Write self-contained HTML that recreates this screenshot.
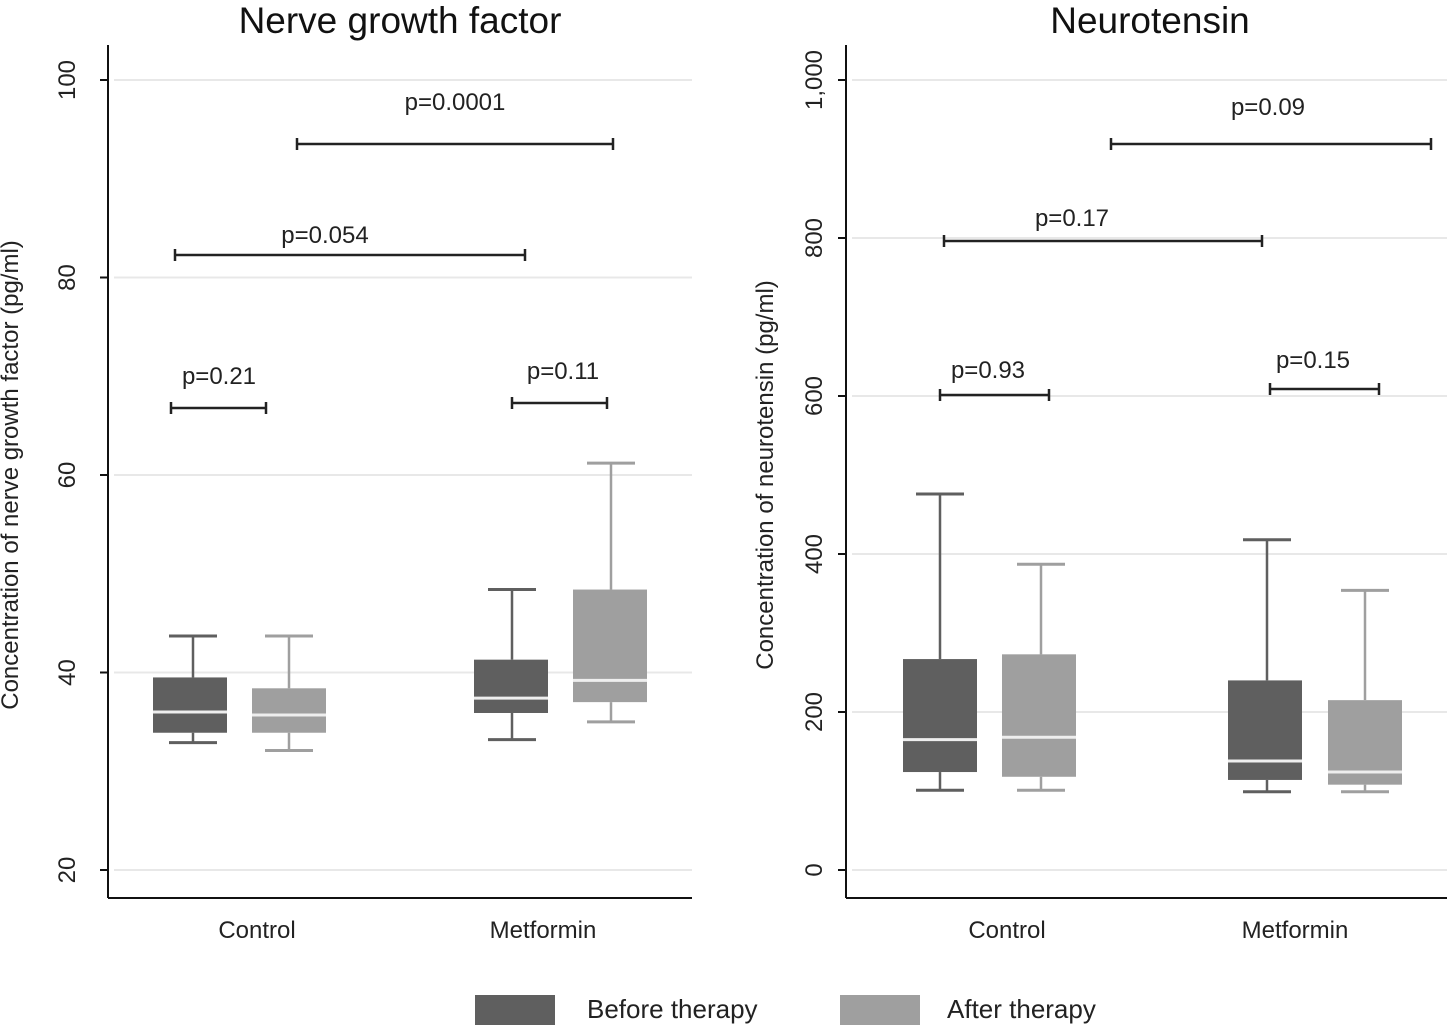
<!DOCTYPE html>
<html><head><meta charset="utf-8"><style>
body{margin:0;background:#fff}
svg{display:block;font-family:"Liberation Sans",Arial,sans-serif}
</style></head><body>
<svg id="chart" width="1450" height="1027" viewBox="0 0 1450 1027"></svg>
<script>
const categories=["Control","Metformin"];
const seriesNames=["Before therapy","After therapy"];
// [min, q1, median, q3, max] per category, per series
const ngfBefore=[[32.9,33.9,36.0,39.5,43.7],[33.2,35.9,37.4,41.3,48.4]];
const ngfAfter=[[32.1,33.9,35.7,38.4,43.7],[35.0,37.0,39.2,48.4,61.2]];
const ntBefore=[[101,124,165,267,476],[99,114,138,240,418]];
const ntAfter=[[101,118,168,273,387],[99,108,124,215,354]];
const ngfTicks=[20,40,60,80,100];
const ntTicks=[0,200,400,600,800,1000];
const ngfTickLabels=["20","40","60","80","100"];
const ntTickLabels=["0","200","400","600","800","1,000"];
const ngfPvals=["p=0.21","p=0.11","p=0.054","p=0.0001"];
const ntPvals=["p=0.93","p=0.15","p=0.17","p=0.09"];

const NS="http://www.w3.org/2000/svg";
const svg=document.getElementById('chart');
function mk(tag,attrs,parent,text){const e=document.createElementNS(NS,tag);for(const k in attrs)e.setAttribute(k,attrs[k]);if(text!==undefined)e.textContent=text;(parent||svg).appendChild(e);return e;}

const panels=[
 {title:"Nerve growth factor",ytitle:"Concentration of nerve growth factor (pg/ml)",x0:108,x1:692,ymin:20,ymax:100,py0:870,py1:80,
  ticks:ngfTicks,labels:ngfTickLabels,before:ngfBefore,after:ngfAfter,boxX:[[153,252],[474,573]],bw:74,wx:[[193,289],[512,611]],catX:[257,543],titleX:400,ytX:18,tickX:75,
  pv:ngfPvals,br:[[171,266,408],[512,607,403]],brl:[[175,525,255],[297,613,144]],pvx:[219,563,325,455],pvy:[384,379,243,110]},
 {title:"Neurotensin",ytitle:"Concentration of neurotensin (pg/ml)",x0:846,x1:1447,ymin:0,ymax:1000,py0:870,py1:80,
  ticks:ntTicks,labels:ntTickLabels,before:ntBefore,after:ntAfter,boxX:[[903,1002],[1228,1328]],bw:74,wx:[[940,1041],[1267,1365]],catX:[1007,1295],titleX:1150,ytX:773,tickX:822,
  pv:ntPvals,br:[[940,1049,395],[1270,1379,389]],brl:[[944,1262,241],[1111,1431,144]],pvx:[988,1313,1072,1268],pvy:[378,368,226,115]}
];
const colors=["#5f5f5f","#9f9f9f"];

panels.forEach((p,pi)=>{
  const g=mk('g',{},svg);
  
  
  const y=v=>p.py0+(v-p.ymin)*(p.py1-p.py0)/(p.ymax-p.ymin);
  const t=mk('text',{x:p.titleX,y:33,'text-anchor':'middle','font-size':37,fill:'#111'},g,p.title);
  
  p.ticks.forEach((tv,i)=>{
    const gl=mk('line',{x1:p.x0+6,x2:p.x1,y1:y(tv),y2:y(tv),stroke:'#e8e8e8','stroke-width':2},g);
    
    mk('line',{x1:p.x0-8,x2:p.x0,y1:y(tv),y2:y(tv),stroke:'#111','stroke-width':2},g);
    const tl=mk('text',{transform:`translate(${p.tickX},${y(tv)}) rotate(-90)`,'text-anchor':'middle','font-size':24,fill:'#222'},g,p.labels[i]);
    
  });
  mk('line',{x1:p.x0,x2:p.x0,y1:45,y2:898,stroke:'#111','stroke-width':2},g);
  mk('line',{x1:p.x0,x2:p.x1,y1:898,y2:898,stroke:'#111','stroke-width':2},g);
  const yt=mk('text',{transform:`translate(${p.ytX},${475}) rotate(-90)`,'text-anchor':'middle','font-size':24,fill:'#222'},g,p.ytitle);
  
  categories.forEach((c,ci)=>{
    const cl=mk('text',{x:p.catX[ci],y:938,'text-anchor':'middle','font-size':24,fill:'#222'},g,c);
    
    [p.before[ci],p.after[ci]].forEach((d,si)=>{
      const bx=p.boxX[ci][si],cx=p.wx[ci][si],col=colors[si];
      const bg=mk('g',{},g);
      
      
      mk('line',{x1:cx,x2:cx,y1:y(d[4]),y2:y(d[3]),stroke:col,'stroke-width':2.5},bg);
      mk('line',{x1:cx,x2:cx,y1:y(d[1]),y2:y(d[0]),stroke:col,'stroke-width':2.5},bg);
      mk('line',{x1:cx-24,x2:cx+24,y1:y(d[4]),y2:y(d[4]),stroke:col,'stroke-width':3},bg);
      mk('line',{x1:cx-24,x2:cx+24,y1:y(d[0]),y2:y(d[0]),stroke:col,'stroke-width':3},bg);
      mk('rect',{x:bx,y:y(d[3]),width:p.bw,height:y(d[1])-y(d[3]),fill:col},bg);
      mk('line',{x1:bx,x2:bx+p.bw,y1:y(d[2]),y2:y(d[2]),stroke:'#eee','stroke-width':3},bg);
    });
  });
  p.br.concat(p.brl).forEach((b,bi)=>{
    const bg=mk('g',{},g);
    
    
    mk('line',{x1:b[0],x2:b[1],y1:b[2],y2:b[2],stroke:'#222','stroke-width':2.5},bg);
    mk('line',{x1:b[0],x2:b[0],y1:b[2]-6,y2:b[2]+6,stroke:'#222','stroke-width':2.5},bg);
    mk('line',{x1:b[1],x2:b[1],y1:b[2]-6,y2:b[2]+6,stroke:'#222','stroke-width':2.5},bg);
    mk('text',{x:p.pvx[bi],y:p.pvy[bi],'text-anchor':'middle','font-size':24,fill:'#222'},bg,p.pv[bi]);
  });
});
// legend
[[475,587],[840,947]].forEach((l,i)=>{
  const lg=mk('g',{},svg);
  
  
  mk('rect',{x:l[0],y:995,width:80,height:30,fill:colors[i]},lg);
  mk('text',{x:l[1],y:1018,'font-size':26,fill:'#222'},lg,seriesNames[i]);
});
</script>
</body></html>
